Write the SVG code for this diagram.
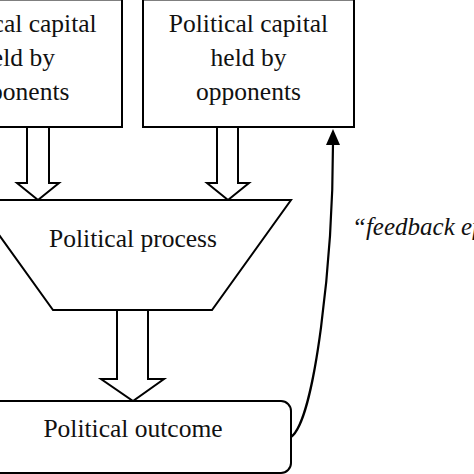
<svg xmlns="http://www.w3.org/2000/svg" width="474" height="474" viewBox="0 0 474 474">
<defs>
<style>
.box{fill:#fff;stroke:#000;stroke-width:2}
.t{font-family:"Liberation Serif","Times New Roman",serif;font-size:25.5px;fill:#111;text-anchor:middle}
.it{font-family:"Liberation Serif","Times New Roman",serif;font-size:25px;font-style:italic;fill:#111}
.hollow{fill:#fff;stroke:#000;stroke-width:2;stroke-linejoin:miter}
.conn{fill:none;stroke:#000;stroke-width:2.2}
</style>
<marker id="ah" markerWidth="16" markerHeight="14" refX="2" refY="7" orient="auto" markerUnits="userSpaceOnUse" viewBox="0 0 16 14">
<path d="M0,0 L16,7 L0,14 Z" fill="#000"/>
</marker>
</defs>
<rect width="474" height="474" fill="#fff"/>
<g id="connectors">
<path class="hollow" d="M27,127 L27,183 L17,183 L38,200 L59,183 L49,183 L49,127"/>
<path class="hollow" d="M217,127 L217,183 L207,183 L228,200 L249,183 L238,183 L238,127"/>
<path class="hollow" d="M117,310 L117,379 L101,379 L133,401 L164,379 L148,379 L148,310"/>
<path class="conn" d="M291,437 C315,420 333,260 333,143" marker-end="url(#ah)"/>
</g>
<g id="box-left">
<rect class="box" x="-89" y="-0.5" width="211" height="127.5"/>
<text class="t" x="17" y="32">Political capital</text>
<text class="t" x="17" y="66">held by</text>
<text class="t" x="17" y="100">opponents</text>
</g>
<g id="box-right">
<rect class="box" x="143" y="-0.5" width="211" height="127.5"/>
<text class="t" x="248.5" y="32">Political capital</text>
<text class="t" x="248.5" y="66">held by</text>
<text class="t" x="248.5" y="100">opponents</text>
</g>
<g id="process">
<path class="box" d="M-26,200 L291,200 L212,310 L53,310 Z"/>
<text class="t" x="133" y="247">Political process</text>
</g>
<g id="outcome">
<rect class="box" x="-25" y="401" width="316" height="72" rx="10"/>
<text class="t" x="133" y="437">Political outcome</text>
</g>
<g id="feedback-label">
<text class="it" x="352" y="235">“feedback effects”</text>
</g>
</svg>
